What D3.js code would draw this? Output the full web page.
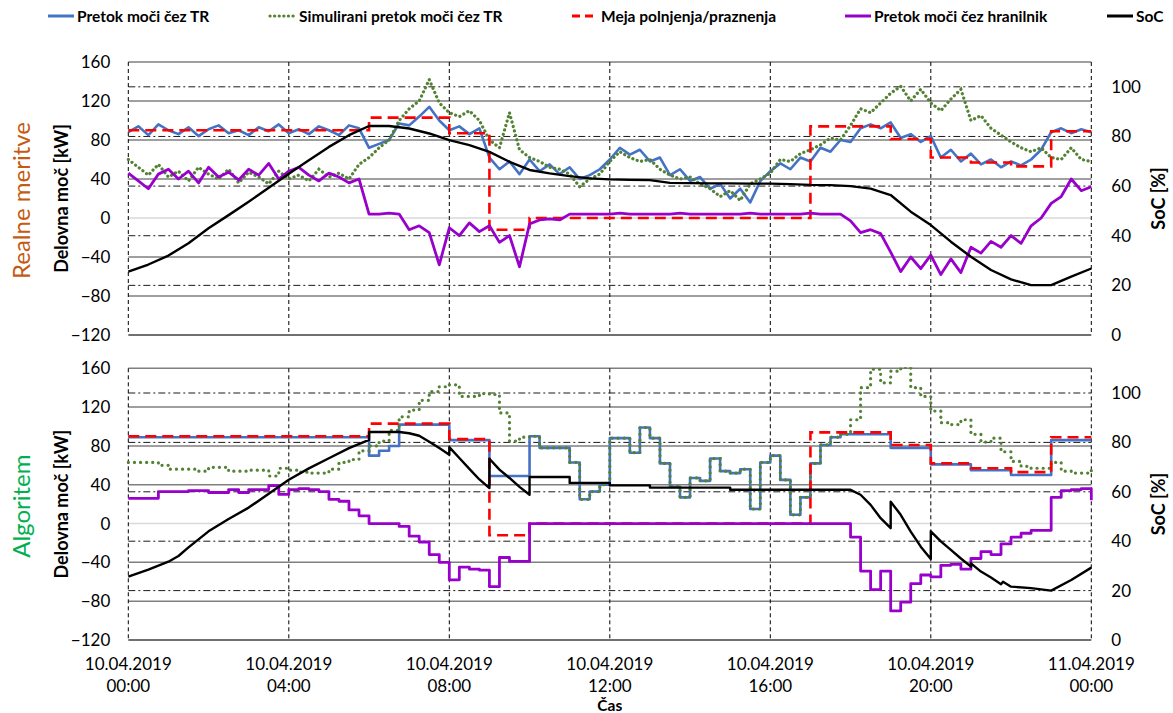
<!DOCTYPE html>
<html>
<head>
<meta charset="utf-8">
<script src="https://cdn.jsdelivr.net/npm/d3@7"></script>
<style>
  body { margin: 0; background: #fff; }
  svg text { font-family: Lato, "Open Sans", "Liberation Sans", sans-serif; }
</style>
</head>
<body>
<svg id="chart" width="1173" height="713"></svg>
<script>
// x axis
const hourTicks = [0, 4, 8, 12, 16, 20, 24];
const tickDates = ['10.04.2019', '10.04.2019', '10.04.2019', '10.04.2019', '10.04.2019', '10.04.2019', '11.04.2019'];
const tickTimes = ['00:00', '04:00', '08:00', '12:00', '16:00', '20:00', '00:00'];
const kwTicks = [-120, -80, -40, 0, 40, 80, 120, 160];
const socTicks = [0, 20, 40, 60, 80, 100];

// charge/discharge limit, one value per hour (same in both panels)
const limitHourly = [90, 90, 90, 90, 90, 90, 103, 103, 87, -12, 0, 0, 0, 0, 0, 0, 0, 94, 94, 81, 62, 57, 53, 89];

// real measurements, 15 min steps from 00:00 to 24:00
const realTr = [
  88, 94, 85, 96, 90, 86, 93, 84, 91, 95, 87, 90, 85, 93, 89, 96, 87, 91, 86, 94, 90, 85, 95, 92,
  72, 76, 80, 97, 95, 104, 114, 100, 90, 94, 86, 92,
  62, 50, 58, 45, 60, 48, 55, 45, 52, 40, 44, 50,
  60, 72, 65, 70, 58, 62, 44, 50, 38, 42, 30, 35,
  20, 30, 16, 38, 48, 56, 50, 62, 58, 72, 68, 80,
  78, 92, 96, 92, 98, 82, 86, 78, 84, 62, 70, 58,
  66, 55, 60, 52, 58, 54, 60, 70, 88, 92, 87, 91, 88
];
const realSim = [
  60, 52, 44, 55, 42, 48, 38, 52, 45, 40, 50, 36, 47, 42, 35, 48, 40, 44, 38, 50, 42, 46, 40, 55,
  62, 72, 80, 100, 112, 120, 142, 118, 108, 104, 110, 100,
  80, 72, 108, 70, 62, 58, 52, 50, 45, 32, 40, 45,
  58, 68, 62, 58, 60, 50, 44, 40, 42, 35, 30, 22,
  28, 18, 35, 40, 46, 60, 58, 66, 70, 75, 82, 80,
  95, 112, 108, 118, 128, 135, 120, 132, 118, 110, 122, 132,
  100, 105, 92, 85, 78, 72, 68, 72, 62, 60, 72, 60, 58
];
const realStorage = [
  46, 38, 30, 45, 50, 40, 48, 36, 52, 42, 47, 39, 50, 44, 56, 40, 48, 52, 44, 38, 46, 42, 36, 40,
  4, 4, 5, 4, -12, -8, -15, -48, -10, -18, -5, -14,
  -8, -25, -18, -50, -6, -2, -1, -2, 4, 4, 4, 4,
  4, 5, 4, 4, 4, 4, 4, 5, 4, 4, 4, 4,
  4, 4, 5, 4, 4, 4, 4, 4, 5, 4, 4, 4,
  -3, -15, -12, -16, -35, -55, -40, -52, -38, -58, -42, -56,
  -30, -36, -24, -30, -18, -26, -8, 0, 15, 22, 40, 28, 32
];
// SoC, 30 min steps
const realSoc = [
  25.5, 28.4, 32, 37, 43, 48.3, 53.7, 59.3, 65, 70.4, 75.8, 80.5,
  84.2, 84.2, 83.2, 81.2, 78.5, 76.5, 73.8, 69.8, 66.5, 65.1, 64, 63.1,
  62.7, 62.5, 62.4, 61.3, 61.2, 61.1, 61.1, 61, 61, 60.8, 60.5, 60.4,
  60, 59, 56.4, 49.7, 44.3, 37.6, 31.5, 26.2, 22.4, 20.1, 20.1, 23.5, 26.8
];

// algorithm, 15 min steps (step after)
const algTr = [
  89, 89, 89, 89, 89, 89, 89, 89, 89, 89, 89, 89, 89, 89, 89, 89, 89, 89, 89, 89, 89, 89, 89, 89,
  70, 75, 80, 102, 102, 102, 102, 102, 86, 86, 86, 86,
  49, 49, 49, 49, 90, 78, 78, 78, 63, 25, 33, 40,
  88, 88, 73, 99, 88, 62, 38, 27, 47, 44, 67, 54,
  52, 56, 15, 63, 70, 45, 9, 27, 62, 81, 89, 92,
  92, 92, 92, 92, 78, 78, 78, 78, 61, 61, 61, 61,
  55, 55, 55, 55, 50, 50, 50, 50, 86, 86, 86, 86, 86
];
const algSim = [
  63, 63, 63, 60, 56, 56, 56, 54, 58, 58, 54, 54, 55, 55, 49, 57, 55, 53, 52, 52, 56, 63, 66, 75,
  80, 85, 96, 110, 117, 127, 136, 141, 143, 131, 131, 134,
  133, 114, 85, 89, 90, 78, 78, 78, 63, 25, 33, 40,
  88, 88, 73, 99, 88, 62, 38, 27, 47, 44, 67, 54,
  52, 56, 15, 63, 70, 45, 9, 27, 62, 81, 89, 92,
  107, 140, 159, 145, 157, 161, 140, 131, 116, 104, 102, 107,
  92, 84, 88, 74, 64, 59, 57, 57, 63, 54, 52, 52, 57
];
const algStorage = [
  26, 26, 26, 33, 33, 33, 34, 34, 32, 32, 35, 32, 35, 35, 39, 30, 35, 36, 35, 33, 25, 23, 14, 8,
  0, 0, 0, -3, -13, -19, -32, -40, -58, -45, -47, -48,
  -65, -35, -39, -39, 0, 0, 0, 0, 0, 0, 0, 0,
  0, 0, 0, 0, 0, 0, 0, 0, 0, 0, 0, 0,
  0, 0, 0, 0, 0, 0, 0, 0, 0, 0, 0, 0,
  -14, -49, -68, -49, -90, -81, -62, -53, -55, -43, -42, -47,
  -36, -29, -32, -21, -14, -10, -7, -7, 27, 34, 35, 36, 24
];
const algSocHours = [
  0, 0.5, 1, 1.25, 1.5, 2, 2.5, 3, 3.5, 4, 4.5, 5, 5.5, 6, 6, 6.75, 7, 7.25, 7.5, 7.75, 8, 8,
  8.25, 8.5, 8.75, 9, 9, 9.25, 9.5, 9.75, 10, 10, 11, 11, 12, 12, 13, 13, 15, 15, 18,
  18.25, 18.5, 18.75, 19, 19, 19.25, 19.5, 19.75, 20, 20, 20.25, 20.5, 20.75, 21, 21,
  21.25, 21.5, 21.75, 21.8, 22, 22.5, 23, 23.5, 24
];
const algSocValues = [
  25.7, 28.5, 31.7, 34, 37.5, 44, 49, 53.6, 59.2, 64.9, 69.5, 73.6, 77.7, 81, 84.2, 84.2, 83.7, 82.7, 80.3, 77.7, 75, 78.1,
  73.7, 69.3, 65, 61.5, 73.4, 69, 65.6, 62, 58.8, 66, 66, 63.6, 63.6, 62.6, 62.6, 61.7, 61.7, 60.8, 60.8,
  58.8, 54.7, 49.3, 45.3, 56, 50.7, 43.9, 37.8, 32.8, 44, 39.9, 36.5, 33, 29.7, 31,
  27.7, 25.3, 22.6, 23.6, 21.6, 21, 20, 24.3, 29.3
];

const colors = { tr: '#4472C4', sim: '#548235', limit: '#FF0000', storage: '#9900CC', soc: '#000000' };

const svg = d3.select('#chart');
const x = d3.scaleLinear().domain([0, 24]).range([128.3, 1091.3]);

const quarter = arr => arr.map((v, i) => [i / 4, v]);
const limitPts = limitHourly.map((v, i) => [i, v]).concat([[24, limitHourly[23]]]);

const panels = [
  {
    id: 'real', label: 'Realne meritve', labelColor: '#C55A11', top: 62, bottom: 335, step: false,
    tr: quarter(realTr), sim: quarter(realSim), storage: quarter(realStorage),
    soc: realSoc.map((v, i) => [i / 2, v]), simDash: '0.1 4.5'
  },
  {
    id: 'alg', label: 'Algoritem', labelColor: '#00B050', top: 368.3, bottom: 640, step: true,
    tr: quarter(algTr), sim: quarter(algSim), storage: quarter(algStorage),
    soc: algSocHours.map((h, i) => [h, algSocValues[i]]), simDash: '0.1 6'
  }
];

panels.forEach(p => {
  const yKw = d3.scaleLinear().domain([-120, 160]).range([p.bottom, p.top]);
  const ySoc = d3.scaleLinear().domain([0, 110]).range([p.bottom, p.top]);
  const g = svg.append('g');

  // horizontal kW grid
  g.selectAll('.kw').data(kwTicks.filter(d => d > -120)).enter().append('line')
    .attr('x1', x(0)).attr('x2', x(24))
    .attr('y1', d => yKw(d)).attr('y2', d => yKw(d))
    .attr('stroke', d => d === 0 ? '#D9D9D9' : '#7F7F7F')
    .attr('stroke-width', 1.5);

  // SoC grid (dash dot)
  g.selectAll('.soc').data(socTicks.filter(d => d > 0)).enter().append('line')
    .attr('x1', x(0)).attr('x2', x(24))
    .attr('y1', d => ySoc(d)).attr('y2', d => ySoc(d))
    .attr('stroke', '#000').attr('stroke-width', 0.9)
    .attr('stroke-dasharray', '7,3,2,3');

  // vertical dashed grid
  g.selectAll('.vx').data(hourTicks).enter().append('line')
    .attr('x1', d => x(d)).attr('x2', d => x(d))
    .attr('y1', p.top).attr('y2', p.bottom)
    .attr('stroke', '#000').attr('stroke-width', 1)
    .attr('stroke-dasharray', '4,3');

  // bottom axis line
  g.append('line')
    .attr('x1', x(0)).attr('x2', x(24))
    .attr('y1', p.bottom).attr('y2', p.bottom)
    .attr('stroke', '#404040').attr('stroke-width', 1.5);

  // left axis labels
  const left = g.append('g').attr('transform', `translate(${x(0)},0)`)
    .call(d3.axisLeft(yKw).tickValues(kwTicks).tickSize(0).tickPadding(18));
  left.select('.domain').remove();
  left.selectAll('text').attr('font-size', 17).attr('fill', '#000')
    .style('font-family', 'Lato, sans-serif');

  // right axis labels
  const right = g.append('g').attr('transform', `translate(${x(24)},0)`)
    .call(d3.axisRight(ySoc).tickValues(socTicks).tickSize(0).tickPadding(20));
  right.select('.domain').remove();
  right.selectAll('text').attr('font-size', 17).attr('fill', '#000')
    .style('font-family', 'Lato, sans-serif');

  // clip
  svg.append('clipPath').attr('id', 'clip-' + p.id).append('rect')
    .attr('x', x(0) - 2).attr('y', p.top - 1)
    .attr('width', x(24) - x(0) + 4).attr('height', p.bottom - p.top + 2);

  const series = g.append('g').attr('clip-path', `url(#clip-${p.id})`);
  const kwLine = d3.line().x(d => x(d[0])).y(d => yKw(d[1]));
  if (p.step) kwLine.curve(d3.curveStepAfter);
  const limitLine = d3.line().x(d => x(d[0])).y(d => yKw(d[1])).curve(d3.curveStepAfter);
  const socLine = d3.line().x(d => x(d[0])).y(d => ySoc(d[1]));

  series.append('path').datum(p.tr).attr('d', kwLine)
    .attr('fill', 'none').attr('stroke', colors.tr).attr('stroke-width', 2.6)
    .attr('stroke-linejoin', 'round');
  series.append('path').datum(p.sim).attr('d', kwLine)
    .attr('fill', 'none').attr('stroke', colors.sim).attr('stroke-width', 3.2)
    .attr('stroke-linecap', 'round').attr('stroke-dasharray', p.simDash);
  series.append('path').datum(limitPts).attr('d', limitLine)
    .attr('fill', 'none').attr('stroke', colors.limit).attr('stroke-width', 2.6)
    .attr('stroke-dasharray', '11,6');
  series.append('path').datum(p.storage).attr('d', kwLine)
    .attr('fill', 'none').attr('stroke', colors.storage).attr('stroke-width', 2.8)
    .attr('stroke-linejoin', 'round');
  series.append('path').datum(p.soc).attr('d', socLine)
    .attr('fill', 'none').attr('stroke', colors.soc).attr('stroke-width', 2.4)
    .attr('stroke-linejoin', 'round');

  // titles
  const mid = (p.top + p.bottom) / 2;
  g.append('text').attr('transform', `translate(20,${mid + 2}) rotate(-90)`)
    .attr('text-anchor', 'middle').attr('dominant-baseline', 'central')
    .attr('font-size', 24).attr('fill', p.labelColor).text(p.label);
  g.append('text').attr('transform', `translate(61,${mid}) rotate(-90)`)
    .attr('text-anchor', 'middle').attr('dominant-baseline', 'central')
    .attr('font-size', 18).attr('font-weight', 'bold').text('Delovna moč [kW]');
  g.append('text').attr('transform', `translate(1158,${mid}) rotate(-90)`)
    .attr('text-anchor', 'middle').attr('dominant-baseline', 'central')
    .attr('font-size', 18).attr('font-weight', 'bold').text('SoC [%]');
});

// x labels under bottom panel
const xl = svg.append('g').selectAll('text').data(hourTicks).enter().append('text')
  .attr('x', d => x(d)).attr('text-anchor', 'middle').attr('font-size', 17);
xl.append('tspan').attr('x', d => x(d)).attr('y', 670).text((d, i) => tickDates[i]);
xl.append('tspan').attr('x', d => x(d)).attr('y', 692).text((d, i) => tickTimes[i]);
svg.append('text').attr('x', x(12)).attr('y', 711).attr('text-anchor', 'middle')
  .attr('font-size', 15.5).attr('font-weight', 'bold').text('Čas');

// legend
const legendItems = [
  { name: 'Pretok moči čez TR', color: colors.tr, x: 48, dash: null, cap: 'butt', w: 3 },
  { name: 'Simulirani pretok moči čez TR', color: colors.sim, x: 270, dash: '0.1 4.5', cap: 'round', w: 3.2 },
  { name: 'Meja polnjenja/praznenja', color: colors.limit, x: 572, dash: '8,5', cap: 'butt', w: 3 },
  { name: 'Pretok moči čez hranilnik', color: colors.storage, x: 845, dash: null, cap: 'butt', w: 3 },
  { name: 'SoC', color: colors.soc, x: 1107, dash: null, cap: 'butt', w: 3 }
];
const leg = svg.append('g').selectAll('g').data(legendItems).enter().append('g')
  .attr('transform', d => `translate(${d.x},16)`);
leg.append('line').attr('x1', 0).attr('x2', 26).attr('y1', 0).attr('y2', 0)
  .attr('stroke', d => d.color).attr('stroke-width', d => d.w)
  .attr('stroke-linecap', d => d.cap).attr('stroke-dasharray', d => d.dash);
leg.append('text').attr('x', 29).attr('y', 0).attr('dominant-baseline', 'central')
  .attr('font-size', 15.5).attr('font-weight', 'bold').text(d => d.name);
</script>
</body>
</html>
